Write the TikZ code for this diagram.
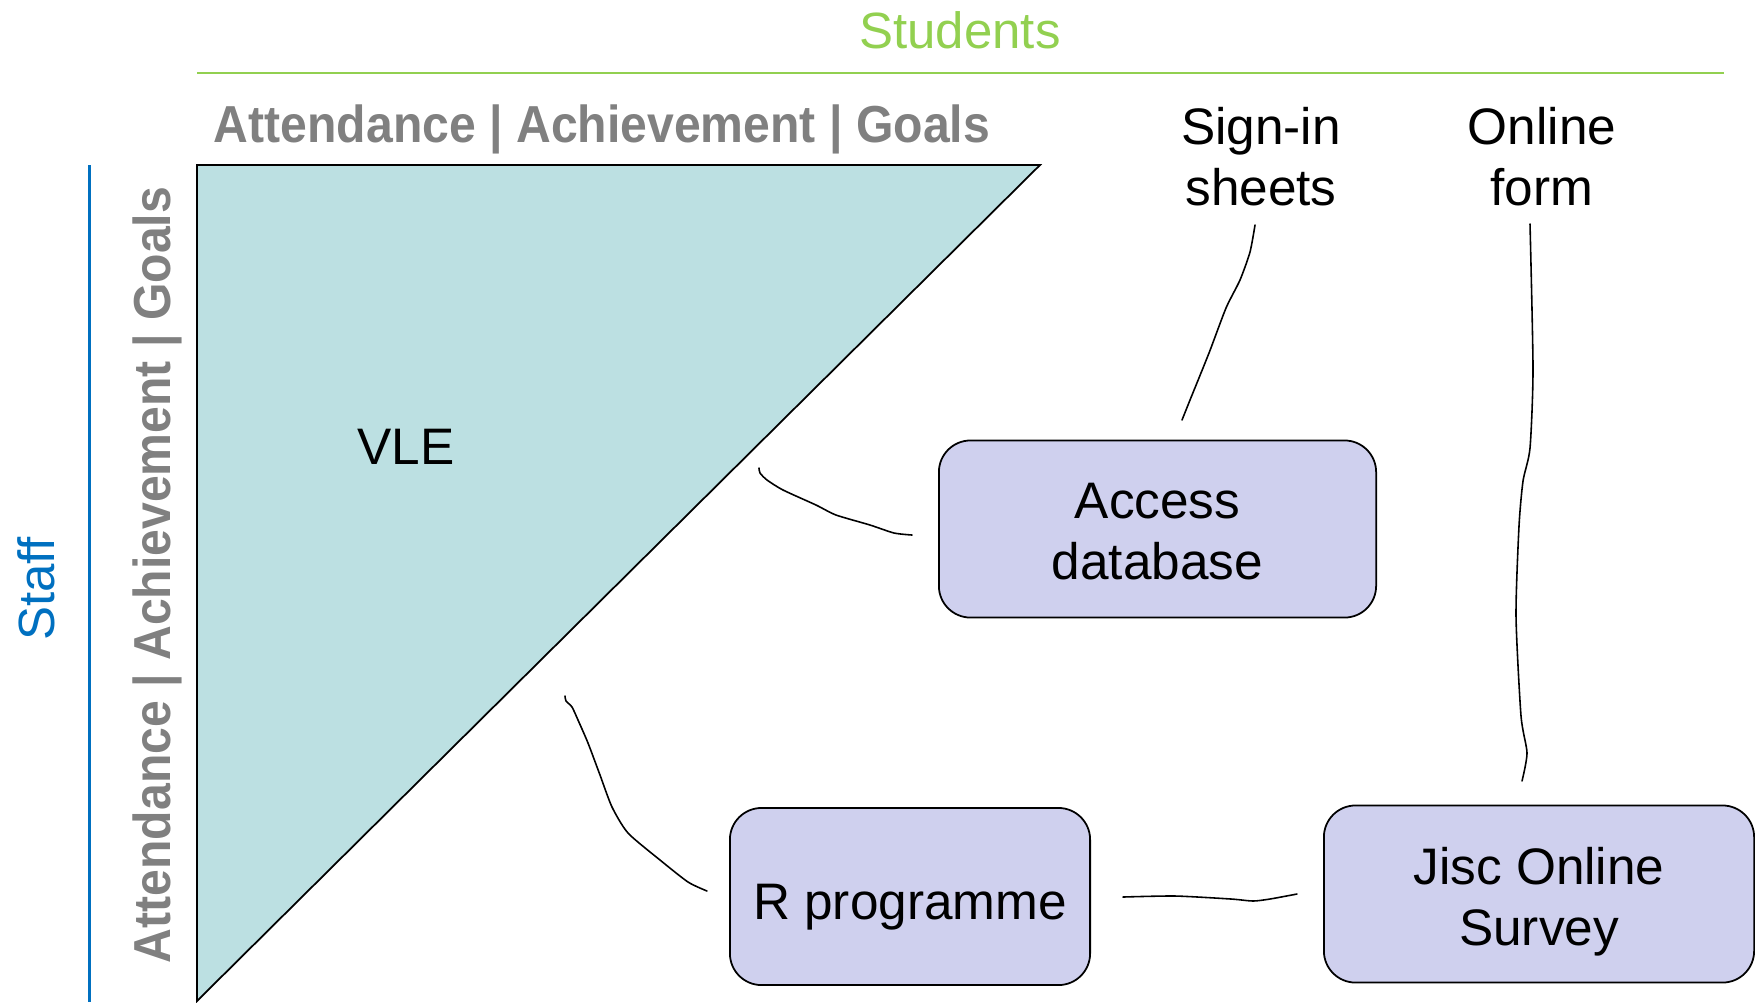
\documentclass[tikz,border=0pt]{standalone}
\usepackage{fontspec}
\setmainfont{Liberation Sans}
\usepackage{xcolor}
\usetikzlibrary{positioning}

\definecolor{vleteal}{RGB}{188,224,226}
\definecolor{boxlilac}{RGB}{207,208,238}
\definecolor{studgreen}{RGB}{146,208,80}
\definecolor{staffblue}{RGB}{0,112,192}
\definecolor{headgrey}{RGB}{128,128,128}

% centred lines, dropped a little inside their box
\newcommand\boxtext[2]{\raisebox{-#1}[\height][\depth]{\begin{tabular}{@{}c@{}}#2\end{tabular}}}
% narrow bold heading
\newcommand\headtext{\scalebox{0.925}[1]{Attendance | Achievement | Goals}}

\begin{document}
\begin{tikzpicture}[
        x=0.01cm, y=-0.01cm,
        tool/.style={
          rectangle,
          rounded corners=9pt,
          draw,
          line width=0.5pt,
          fill=boxlilac,
          minimum height=1.77cm,
          font=\fontsize{14.6}{17.4}\selectfont
        },
        source/.style={
          align=center,
          font=\fontsize{14.6}{17.4}\selectfont
        },
        heading/.style={
          text=headgrey,
          font=\fontsize{14.8}{17}\selectfont\bfseries
        },
        scribble/.style={
          line width=0.45pt,
          line cap=round
        }
      ]

      \useasboundingbox (0,0) rectangle (1755,1002);

      % Axes
      \node[text=studgreen, font=\fontsize{14.5}{17}\selectfont] (students) at (960,30) {Students};
      \draw[studgreen, line width=0.6pt] (197,73) -- (1724,73);
      \node[text=staffblue, font=\fontsize{14.5}{17}\selectfont, rotate=90] (staff) at (36,589) {Staff};
      \draw[staffblue, line width=0.6pt] (89.5,165) -- (89.5,1002);

      \node[heading] (toprow) at (602,129.5) {\headtext};
      \node[heading, rotate=90] (siderow) at (157.5,575) {\headtext};

      % VLE triangle
      \draw[fill=vleteal, line width=0.5pt] (197,165) -- (1040,165) -- (197,1001) -- cycle;
      \node[source] (vle) at (406,447) {VLE};

      % Entities
      \node[source] (signin) at (1261,157) {Sign-in\\sheets};
      \node[source] (form) at (1542,157) {Online\\form};
      \node[tool, minimum width=4.37cm] (access) at (1157.5,529) {\boxtext{2.3pt}{Access\\database}};
      \node[tool, minimum width=3.6cm] (rprog) at (910,896.5) {\boxtext{3pt}{R programme}};
      \node[tool, minimum width=4.3cm] (jisc) at (1539,894) {\boxtext{2.4pt}{Jisc Online\\Survey}};

      % Loose ends of the hand drawn links
      \coordinate (signinend) at (1255,225);
      \coordinate (accesstop) at (1182,420);
      \coordinate (formend) at (1530,224);
      \coordinate (jisctop) at (1522,781);
      \coordinate (accessleft) at (912,535);
      \coordinate (vleedge) at (759,468);
      \coordinate (rprogleft) at (707,891);
      \coordinate (vlelow) at (565,696);
      \coordinate (rprogright) at (1123,897);
      \coordinate (jiscleft) at (1297,894);

      % Links
      \draw[scribble] plot[smooth, tension=0.4] coordinates {(signinend) (1250,252) (1240,280) (1226,308) (1209,353) (1190,400) (accesstop)};
      \draw[scribble] plot[smooth, tension=0.4] coordinates {(formend) (1533,369) (1530,448) (1523,481) (1519,526) (1516,616) (1521,716) (1527,753) (jisctop)};
      \draw[scribble] plot[smooth, tension=0.4] coordinates {(accessleft) (894,533) (870,525) (836,515) (816,505) (783,490) (767,480) (760,473) (vleedge)};
      \draw[scribble] plot[smooth, tension=0.4] coordinates {(rprogleft) (688,882) (660,860) (628,833) (612,807) (600,775) (588,743) (578,720) (572,707) (566,701) (vlelow)};
      \draw[scribble] plot[smooth, tension=0.4] coordinates {(rprogright) (1175,896) (1231,899) (1253,901) (1270,899) (jiscleft)};

    \end{tikzpicture}
\end{document}
